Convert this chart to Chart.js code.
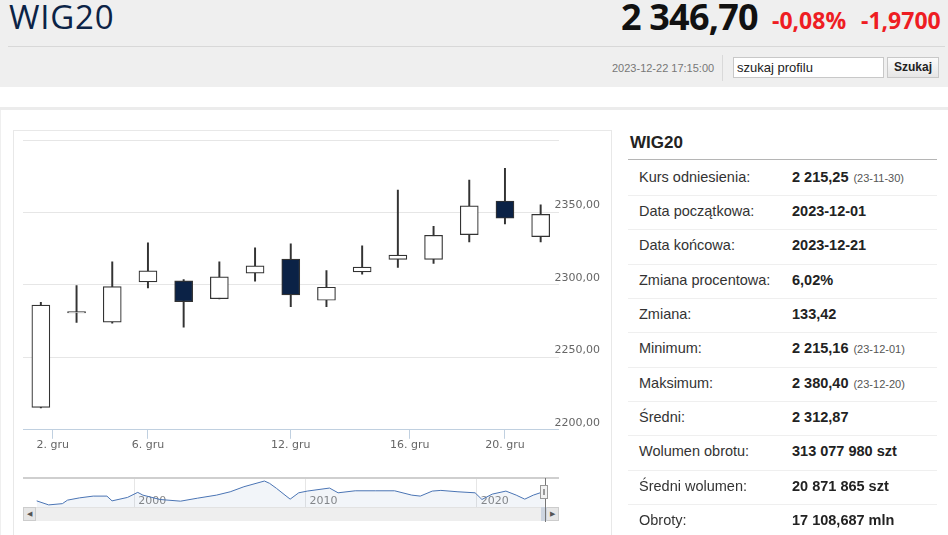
<!DOCTYPE html>
<html lang="pl">
<head>
<meta charset="utf-8">
<title>WIG20</title>
<script src="https://cdn.jsdelivr.net/npm/chart.js@4.4.1/dist/chart.umd.min.js"></script>
<style>
  html, body { margin: 0; padding: 0; }
  body { width: 948px; height: 535px; overflow: hidden; position: relative; background: #fff;
         font-family: "Liberation Sans", Arial, sans-serif; }
  .abs { position: absolute; }
  #head { left: 0; top: 0; width: 948px; height: 87px; background: #efefef; }
  #title { left: 9px; top: 0; font: 500 33px/33px "Open Sans", sans-serif; color: #0b2346; letter-spacing: 0.8px; }
  #price { left: 621px; top: -1px; font: 700 36px/36px "Open Sans", sans-serif; color: #111; letter-spacing: -0.8px; }
  .red { top: 9px; font: 700 23px/23px "Open Sans", sans-serif; color: #ee1d23; }
  #sep { left: 8px; top: 46px; width: 937px; height: 1px; background: #d8d8d8; }
  #date { left: 612px; top: 62px; font-size: 11px; line-height: 12px; color: #777; }
  #divider { left: 722px; top: 55px; width: 1px; height: 26px; background: #d9d9d9; }
  #search { left: 733px; top: 57px; width: 146px; height: 19px; border: 1px solid #c8c8c8; background: #fff;
            font-size: 13px; line-height: 19px; padding-left: 3px; color: #222; }
  #btn { left: 887px; top: 57px; width: 50px; height: 19px; border: 1px solid #c8c8c8;
         background: linear-gradient(#fbfbfb, #e6e6e6); font-weight: 700; font-size: 12px;
         line-height: 19px; text-align: center; color: #222; }
  #band { left: 0; top: 107px; width: 948px; height: 3px; background: #ececec; }
  #edge { left: 0; top: 110px; width: 1px; height: 425px; background: #efefef; }
  #box { left: 13px; top: 130px; width: 599px; height: 420px; border: 1px solid #e8e8e8; box-sizing: border-box; }
  #main { left: 13px; top: 131px; }
  #nav { left: 13px; top: 470px; }
  #navTop { left: 23px; top: 477px; width: 536px; height: 2px; background: #cfcfcf; }
  #scroll { left: 23px; top: 507px; width: 536px; height: 14px; background: #eeeeee; border-top: 1px solid #e2e2e2; box-sizing: border-box; }
  .sbtn { top: 507px; width: 13px; height: 14px; background: #e6e6e6; border: 1px solid #cccccc; box-sizing: border-box;
          font-size: 7px; line-height: 12px; text-align: center; color: #555; }
  #thumb { left: 541px; top: 507px; width: 6px; height: 14px; background: #cdd5e0; }
  #hline { left: 545px; top: 478px; width: 1px; height: 44px; background: #777; }
  #handle { left: 540px; top: 485px; width: 8px; height: 14px; background: #f2f2f2; border: 1px solid #999; box-sizing: border-box; }
  #handle:before { content: ""; position: absolute; left: 2px; top: 3px; width: 2px; height: 6px; border-left: 1px solid #999; border-right: 1px solid #999; box-sizing: border-box; }
  #tTitle { left: 630px; top: 134px; font-weight: 700; font-size: 17px; line-height: 17px; color: #222; }
  #tLine { left: 628px; top: 159px; width: 309px; height: 1px; background: #b5b5b5; }
  #rows { left: 628px; top: 161.65px; width: 309px; }
  .row { position: relative; height: 33.35px; border-bottom: 1px solid #efefef; font-size: 14.5px; line-height: 31px; color: #333; }
  .row .l { position: absolute; left: 11px; }
  .row .v { position: absolute; left: 164px; font-weight: 700; color: #222; }
  .row small { font-weight: 400; font-size: 11px; color: #555; margin-left: 5px; }
</style>
</head>
<body>
<div id="head" class="abs"></div>
<div id="title" class="abs">WIG20</div>
<div id="price" class="abs">2 346,70</div>
<div class="abs red" style="left:772px">-0,08%</div>
<div class="abs red" style="left:861px">-1,9700</div>
<div id="sep" class="abs"></div>
<div id="date" class="abs">2023-12-22 17:15:00</div>
<div id="divider" class="abs"></div>
<div id="search" class="abs">szukaj profilu</div>
<div id="btn" class="abs">Szukaj</div>
<div id="band" class="abs"></div>
<div id="edge" class="abs"></div>
<div id="box" class="abs"></div>
<canvas id="main" class="abs" width="599" height="321"></canvas>
<canvas id="nav" class="abs" width="599" height="40"></canvas>
<div id="navTop" class="abs"></div>
<div id="scroll" class="abs"></div>
<div class="abs sbtn" style="left:23px">&#9664;</div>
<div class="abs sbtn" style="left:546px">&#9654;</div>
<div id="thumb" class="abs"></div>
<div id="hline" class="abs"></div>
<div id="handle" class="abs"></div>

<div id="tTitle" class="abs">WIG20</div>
<div id="tLine" class="abs"></div>
<div id="rows" class="abs">
  <div class="row"><span class="l">Kurs odniesienia:</span><span class="v">2 215,25<small>(23-11-30)</small></span></div>
  <div class="row"><span class="l">Data początkowa:</span><span class="v">2023-12-01</span></div>
  <div class="row"><span class="l">Data końcowa:</span><span class="v">2023-12-21</span></div>
  <div class="row"><span class="l">Zmiana procentowa:</span><span class="v">6,02%</span></div>
  <div class="row"><span class="l">Zmiana:</span><span class="v">133,42</span></div>
  <div class="row"><span class="l">Minimum:</span><span class="v">2 215,16<small>(23-12-01)</small></span></div>
  <div class="row"><span class="l">Maksimum:</span><span class="v">2 380,40<small>(23-12-20)</small></span></div>
  <div class="row"><span class="l">Średni:</span><span class="v">2 312,87</span></div>
  <div class="row"><span class="l">Wolumen obrotu:</span><span class="v">313 077 980 szt</span></div>
  <div class="row"><span class="l">Średni wolumen:</span><span class="v">20 871 865 szt</span></div>
  <div class="row"><span class="l">Obroty:</span><span class="v">17 108,687 mln</span></div>
</div>

<script>
// sesje grudnia 2023 (dzien miesiaca) i notowania OHLC
const tradingDays = [1, 4, 5, 6, 7, 8, 11, 12, 13, 14, 15, 18, 19, 20, 21];
const opens  = [2215.5, 2280.6, 2274.3, 2302.1, 2302.8, 2290.5, 2308.1, 2317.8, 2289.4, 2309.0, 2317.6, 2317.6, 2334.7, 2357.9, 2333.3];
const highs  = [2288.0, 2299.5, 2316.0, 2329.0, 2303.7, 2316.0, 2325.5, 2328.3, 2309.9, 2326.9, 2365.5, 2340.5, 2372.4, 2380.4, 2355.3];
const lows   = [2215.16, 2274.1, 2273.6, 2297.9, 2270.8, 2290.3, 2302.5, 2284.9, 2284.9, 2307.4, 2312.0, 2314.8, 2329.6, 2342.1, 2329.6];
const closes = [2286.0, 2281.6, 2298.8, 2309.7, 2288.4, 2305.6, 2313.2, 2293.1, 2298.4, 2312.3, 2320.6, 2334.2, 2354.6, 2346.0, 2348.67];

const tickDays = [2, 6, 12, 16, 20];
const yMin = 2200, yMax = 2400, yStep = 50;

// nawigator - historia indeksu
const navYears = [1994.3, 1995.0, 1995.8, 1996.1, 1996.8, 1997.6, 1998.4, 1998.7, 1999.6, 2000.2, 2000.5,
  2001.5, 2002.7, 2003.7, 2004.8, 2005.6, 2006.4, 2007.6, 2007.9, 2008.3, 2008.8, 2009.1, 2009.6, 2010.1,
  2011.4, 2011.9, 2012.9, 2014.1, 2015.2, 2016.2, 2016.7, 2017.4, 2017.9, 2018.9, 2019.9, 2020.3, 2020.9,
  2021.7, 2022.3, 2022.8, 2023.3, 2023.7, 2023.97];
const navValues = [1190, 640, 810, 1290, 1600, 1840, 1840, 1190, 1660, 2350, 1975,
  1380, 1150, 1560, 1975, 2430, 3120, 3900, 3580, 2900, 1975, 1425, 2290, 2525,
  2940, 2290, 2565, 2565, 2565, 1975, 1840, 2525, 2620, 2430, 2290, 1380, 2110,
  2525, 1975, 1425, 1975, 2290, 2346.7];
const navTicks = [2000, 2010, 2020];

Chart.defaults.font.family = '"DejaVu Sans", Verdana, sans-serif';
Chart.defaults.font.size = 11;
Chart.defaults.color = '#666';

// os porzadkowa: dni bez sesji wpadaja miedzy swiece
function ordinal(day) {
  for (let i = 0; i < tradingDays.length - 1; i++) {
    const a = tradingDays[i], b = tradingDays[i + 1];
    if (day >= a && day <= b) return i + (day - a) / (b - a);
  }
  return tradingDays.length - 1;
}

const bodies = tradingDays.map((d, i) => ({ x: i, y: [opens[i], closes[i]] }));
const wicks = tradingDays.map((d, i) => ({ x: i, y: [lows[i], highs[i]] }));
const fills = closes.map((c, i) => c >= opens[i] ? '#ffffff' : '#0b2246');

// etykiety osi Y wchodza lekko na obszar wykresu - bez przycinania
const noLabelClip = {
  id: 'noLabelClip',
  beforeDraw(chart) { chart.scales.y._computeLabelArea = () => undefined; }
};

new Chart(document.getElementById('main'), {
  type: 'bar',
  data: {
    datasets: [
      { data: bodies, backgroundColor: fills, borderColor: '#333', borderWidth: 1.2,
        borderSkipped: false, barThickness: 18, grouped: false, order: 0 },
      { data: wicks, backgroundColor: '#333', borderWidth: 0, barThickness: 1.3, grouped: false, order: 1 }
    ]
  },
  options: {
    responsive: false,
    animation: false,
    layout: { padding: { left: 10, top: 9, right: 16, bottom: 0 } },
    plugins: { legend: { display: false }, tooltip: { enabled: false } },
    scales: {
      x: {
        type: 'linear', min: -0.5, max: tradingDays.length - 0.5, offset: false,
        afterBuildTicks: s => { s.ticks = tickDays.map(d => ({ value: ordinal(d) })); },
        ticks: { callback: (v, i) => tickDays[i] + '. gru', padding: 0, maxRotation: 0, color: '#666' },
        grid: { drawOnChartArea: false, drawTicks: true, tickLength: 9, tickColor: '#c0d0e0', offset: false },
        border: { color: '#c0d0e0', width: 1 }
      },
      y: {
        position: 'right', min: yMin, max: yMax,
        ticks: { stepSize: yStep, padding: -4, labelOffset: -7, color: '#666',
          callback: v => v === yMax ? '' : v.toFixed(2).replace('.', ',') },
        grid: { color: '#e6e6e6', drawTicks: false },
        border: { display: false }
      }
    }
  },
  plugins: [noLabelClip]
});

new Chart(document.getElementById('nav'), {
  type: 'line',
  data: {
    datasets: [{
      data: navYears.map((y, i) => ({ x: y, y: navValues[i] })),
      borderColor: '#4a74b4', borderWidth: 1, pointRadius: 0, tension: 0,
      fill: 'start', backgroundColor: 'rgba(69,114,167,0.07)'
    }]
  },
  options: {
    responsive: false,
    animation: false,
    layout: { padding: { left: 10, top: 8, right: 53, bottom: 2.8 } },
    plugins: { legend: { display: false }, tooltip: { enabled: false } },
    scales: {
      x: {
        type: 'linear', min: 1993.5, max: 2024.8,
        afterBuildTicks: s => { s.ticks = navTicks.map(v => ({ value: v })); },
        ticks: { align: 'start', padding: -13, labelOffset: 4, color: '#888', maxRotation: 0,
          callback: v => String(v) },
        grid: { color: '#e6e6e6', drawTicks: false },
        border: { display: false }
      },
      y: { display: false, min: 325, max: 4312 }
    }
  }
});
</script>
</body>
</html>
